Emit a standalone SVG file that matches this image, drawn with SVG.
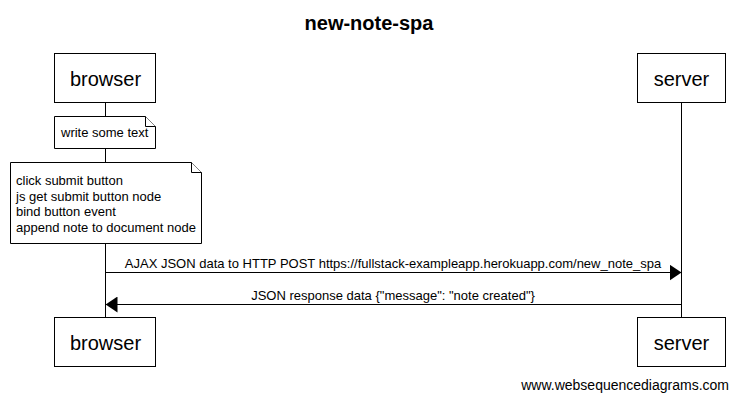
<svg xmlns="http://www.w3.org/2000/svg" width="738" height="400" viewBox="0 0 738 400">
<style>
text{font-family:"Liberation Sans",Arial,sans-serif;fill:#000}
.box{fill:#fff;stroke:#000;stroke-width:1}
.life{stroke:#000;stroke-width:1}
.msg{stroke:#000;stroke-width:1;fill:none}
.lbl{font-size:13px}
.actor{font-size:20px;text-anchor:middle}
.note{fill:#fff;stroke:#000;stroke-width:1}
</style>
<defs>
<marker id="ah" markerWidth="12" markerHeight="16" refX="12" refY="8" orient="auto" markerUnits="userSpaceOnUse">
<path d="M0,0 L12,8 L0,16 Z" fill="#000"/>
</marker>
</defs>
<rect width="738" height="400" fill="#fff"/>
<text x="369" y="30" font-size="20" font-weight="bold" text-anchor="middle">new-note-spa</text>
<g id="lifelines">
<line class="life" x1="105.5" y1="102" x2="105.5" y2="317"/>
<line class="life" x1="681.5" y1="102" x2="681.5" y2="317"/>
</g>
<g id="browser">
<rect class="box" x="54.5" y="53.5" width="101" height="49"/>
<text class="actor" x="105.5" y="86">browser</text>
</g>
<g id="server">
<rect class="box" x="637.5" y="53.5" width="88" height="49"/>
<text class="actor" x="681.5" y="86">server</text>
</g>
<g id="browser-bottom">
<rect class="box" x="54.5" y="317.5" width="101" height="49"/>
<text class="actor" x="105.5" y="350">browser</text>
</g>
<g id="server-bottom">
<rect class="box" x="637.5" y="317.5" width="88" height="49"/>
<text class="actor" x="681.5" y="350">server</text>
</g>
<g id="note1">
<path class="note" d="M54.5,116.5 H145.5 L155.5,126.5 V148.5 H54.5 Z"/>
<path class="note" d="M145.5,116.5 V126.5 H155.5" fill="none"/>
<text class="lbl" x="61" y="137">write some text</text>
</g>
<g id="note2">
<path class="note" d="M10.5,162.5 H191.5 L201.5,172.5 V243.5 H10.5 Z"/>
<path class="note" d="M191.5,162.5 V172.5 H201.5" fill="none"/>
<text class="lbl" x="16" y="185">click submit button</text>
<text class="lbl" x="16" y="200.5">js get submit button node</text>
<text class="lbl" x="16" y="216">bind button event</text>
<text class="lbl" x="16" y="231.5">append note to document node</text>
</g>
<g id="connectors">
<line class="msg" x1="105.5" y1="272.5" x2="681.5" y2="272.5" marker-end="url(#ah)"/>
<text class="lbl" x="393" y="268" text-anchor="middle">AJAX JSON data to HTTP POST https://fullstack-exampleapp.herokuapp.com/new_note_spa</text>
<line class="msg" x1="681.5" y1="304.5" x2="105.5" y2="304.5" marker-end="url(#ah)"/>
<text class="lbl" x="393" y="300" text-anchor="middle">JSON response data {"message": "note created"}</text>
</g>
<text x="729" y="390" font-size="14" text-anchor="end">www.websequencediagrams.com</text>
</svg>
